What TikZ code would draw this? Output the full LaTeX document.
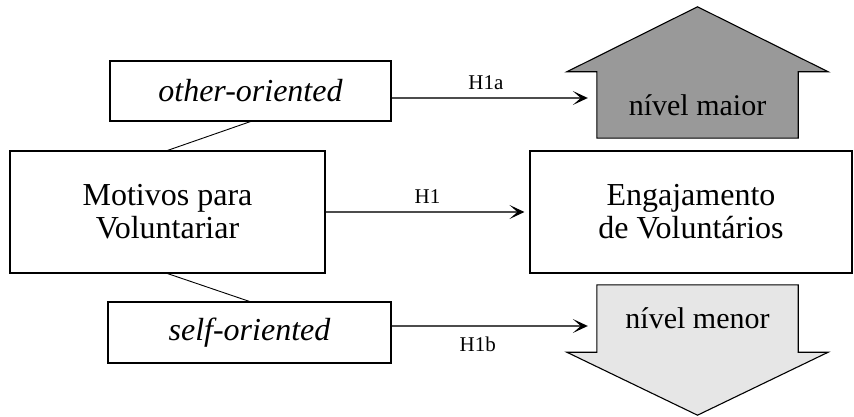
\documentclass[tikz,border=0pt]{standalone}
\usepackage{fontspec}
\setmainfont{Liberation Serif}
\usetikzlibrary{arrows.meta, positioning, calc, backgrounds}
\definecolor{DarkFill}{RGB}{153, 153, 153}
\definecolor{LightFill}{RGB}{230, 230, 230}

\begin{document}
\begin{tikzpicture}[
    x=1pt, y=-1pt,
    box/.style={rectangle, draw=black, line width=1.1pt, inner sep=0pt, align=center, font=\fontsize{32}{33}\selectfont},
    level/.style={rectangle, inner sep=0pt, minimum width=201pt, align=center, font=\fontsize{30}{33}\selectfont},
    bigarrow/.style={draw=black, line width=1.1pt},
    arrow/.style={-{Stealth[length=15pt, width=14pt, inset=8pt, black]}, line width=1.1pt, color=black!70},
    hlabel/.style={font=\fontsize{21}{24}\selectfont, text=black}
]
    \useasboundingbox (0,0) rectangle (854,417);

    % Motivos
    \node[box, minimum width=281pt, minimum height=60pt] (other) at (250.5,91) {\textit{other-oriented}};
    \node[box, minimum width=315pt, minimum height=122pt] (motivos) at (167.5,212) {Motivos para\\ Voluntariar};
    \node[box, minimum width=283pt, minimum height=61pt] (self) at (249.5,332.5) {\textit{self-oriented}};

    % Engajamento
    \node[box, minimum width=322pt, minimum height=122pt] (engajamento) at (691,212) {Engajamento\\ de Voluntários};

    % Niveis
    \node[level, minimum height=66pt] (maior) at (697.5,105) {nível maior};
    \node[level, minimum height=67pt] (menor) at (697.5,318.5) {nível menor};
    \begin{scope}[on background layer]
        \draw[bigarrow, fill=DarkFill] (maior.south west) -- (maior.north west) -- ++(-30,0) -- ($(maior.north)+(0,-65)$) -- ([xshift=30pt]maior.north east) -- (maior.north east) -- (maior.south east) -- cycle;
        \draw[bigarrow, fill=LightFill] (menor.north west) -- (menor.south west) -- ++(-30,0) -- ($(menor.south)+(0,63)$) -- ([xshift=30pt]menor.south east) -- (menor.south east) -- (menor.north east) -- cycle;
    \end{scope}

    % Conexoes
    \draw[line width=0.9pt] (other.south) -- (motivos.north);
    \draw[line width=0.9pt] (motivos.south) -- (self.north);
    \draw[arrow, shorten >=9pt] ([yshift=-7pt]other.east) -- node[hlabel, above=4pt, pos=0.46]{H1a} ([yshift=-7pt]other.east -| maior.west);
    \draw[arrow, shorten >=5pt] (motivos.east) -- node[hlabel, above=5pt]{H1} (engajamento.west);
    \draw[arrow, shorten >=9pt] ([yshift=6.5pt]self.east) -- node[hlabel, below=7pt, pos=0.42]{H1b} ([yshift=6.5pt]self.east -| menor.west);
\end{tikzpicture}
\end{document}
